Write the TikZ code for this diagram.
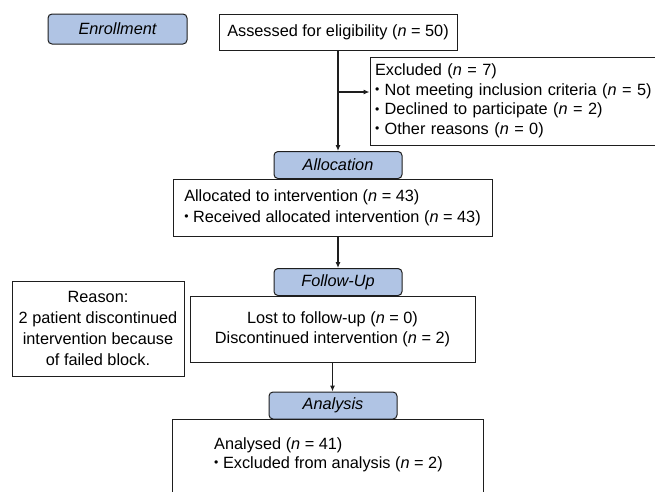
\documentclass[tikz,border=0pt]{standalone}
\usepackage{fontspec}
\setmainfont{Liberation Sans}
\usetikzlibrary{arrows.meta}
\definecolor{stagefill}{RGB}{176,196,228}
\definecolor{linec}{RGB}{30,30,30}
\newcommand{\smbul}{\raisebox{0.12em}{\scalebox{0.75}{\textbullet}}}
\begin{document}
\begin{tikzpicture}[x=1pt,y=-1pt,
  every node/.style={font=\fontsize{16.3}{20}\selectfont, text=black},
  stage/.style={draw=linec, fill=stagefill, rounded corners=4pt, line width=1pt, inner sep=0pt,
    minimum width=128pt, minimum height=27pt, font=\fontsize{16.3}{20}\selectfont\itshape},
  box/.style={draw=linec, line width=1pt, inner sep=0pt},
  conn/.style={draw=linec, line width=1.1pt, -{Latex[length=6pt,width=5pt]}}
]
\useasboundingbox (0,0) rectangle (655,491);
\clip (0,0) rectangle (655,491);

\node[stage, minimum width=139pt, minimum height=30pt] (enroll) at (117.5,29) {Enrollment};
\node[box, minimum width=238pt, minimum height=36pt] (assess) at (338,32) {Assessed for eligibility (\textit{n} = 50)};

\node[box, minimum width=295pt, minimum height=88pt, text width=285pt, align=left,
  font=\fontsize{16.3}{19.5}\selectfont] (excl) at (517.5,101)
  {Excluded (\textit{n} = 7)\\
   \smbul\ Not meeting inclusion criteria (\textit{n} = 5)\\
   \smbul\ Declined to participate (\textit{n} = 2)\\
   \smbul\ Other reasons (\textit{n} = 0)};

\node[stage] (alloc) at (338,165) {Allocation};
\node[box, minimum width=319pt, minimum height=57pt, align=left, font=\fontsize{16.3}{21}\selectfont] (allocated) at (332.5,207.5)
  {Allocated to intervention (\textit{n} = 43)\\
   \smbul\ Received allocated intervention (\textit{n} = 43)};

\node[stage] (follow) at (338,282) {Follow-Up};
\node[box, minimum width=285pt, minimum height=66pt, align=center, font=\fontsize{16.3}{20}\selectfont] (lost) at (332.5,329)
  {Lost to follow-up (\textit{n} = 0)\\
   Discontinued intervention (\textit{n} = 2)};

\node[box, minimum width=172pt, minimum height=95pt, align=center, font=\fontsize{16.3}{21}\selectfont] (reason) at (98,328.5)
  {Reason:\\2 patient discontinued\\intervention because\\of failed block.};

\node[stage] (analysis) at (333,405.5) {Analysis};
\node[box, minimum width=311pt, minimum height=101pt] (analysed) at (327.5,469.5) {};
\node[inner sep=0pt, anchor=west, align=left, font=\fontsize{16.3}{19}\selectfont] (analysedtxt) at (214,455)
  {Analysed (\textit{n} = 41)\\
   \smbul\ Excluded from analysis (\textit{n} = 2)};

\coordinate (br) at (338,92);
\draw[conn] (assess.south) -- (alloc.north);
\draw[conn] (br) -- (br -| excl.west);
\draw[conn] (follow.north |- allocated.south) -- (follow.north);
\draw[conn] (lost.south) -- (lost.south |- analysis.north);
\end{tikzpicture}
\end{document}
